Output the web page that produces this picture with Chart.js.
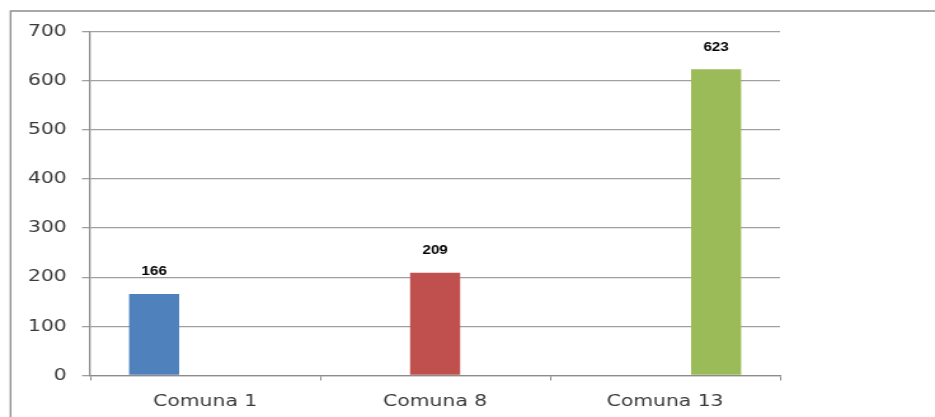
<!DOCTYPE html>
<html>
<head>
<meta charset="utf-8">
<script src="https://cdn.jsdelivr.net/npm/chart.js@4"></script>
<style>
  html, body { margin: 0; padding: 0; background: #ffffff; overflow: hidden; }
  #wrap { width: 736px; height: 417px; transform: scaleX(1.27038); transform-origin: 0 0; }
  canvas { display: block; }
</style>
</head>
<body>
<div id="wrap"><canvas id="c" width="736" height="417"></canvas></div>
<script>
const categories = ['Comuna 1', 'Comuna 8', 'Comuna 13'];
const values = [166, 209, 623];
const barColors = ['#4f81bd', '#c0504d', '#9bbb59'];
const yTicks = [0, 100, 200, 300, 400, 500, 600, 700];

const datasets = categories.map((name, i) => ({
  label: name,
  data: categories.map((_, j) => (j === i ? values[i] : null)),
  backgroundColor: barColors[i],
  borderWidth: 0,
  categoryPercentage: 0.666,
  barPercentage: 0.98
}));

const frame = {
  id: 'frame',
  beforeDraw(chart) {
    const ctx = chart.ctx;
    ctx.save();
    ctx.fillStyle = '#ffffff';
    ctx.fillRect(0, 0, chart.width, chart.height);
    ctx.strokeStyle = '#8c8c8c';
    ctx.lineWidth = 1.3;
    ctx.beginPath();
    ctx.moveTo(8.3, chart.height);
    ctx.lineTo(8.3, 11);
    ctx.lineTo(chart.width, 11);
    ctx.stroke();
    ctx.restore();
  }
};

const valueLabels = {
  id: 'valueLabels',
  afterDatasetsDraw(chart) {
    const ctx = chart.ctx;
    ctx.save();
    ctx.font = 'bold 12px "Liberation Sans", Arial, sans-serif';
    ctx.fillStyle = '#000000';
    ctx.textAlign = 'center';
    ctx.textBaseline = 'middle';
    chart.data.datasets.forEach((ds, di) => {
      const meta = chart.getDatasetMeta(di);
      meta.data.forEach((el, i) => {
        const v = ds.data[i];
        if (v === null || v === undefined) return;
        ctx.fillText(String(v), el.x, el.y - 22);
      });
    });
    ctx.restore();
  }
};

new Chart(document.getElementById('c'), {
  type: 'bar',
  data: { labels: categories, datasets },
  options: {
    responsive: false,
    animation: false,
    devicePixelRatio: 1,
    layout: { padding: { left: 0, right: 122, top: 31.5, bottom: 0 } },
    plugins: { legend: { display: false }, tooltip: { enabled: false } },
    scales: {
      x: {
        grid: { display: true, drawOnChartArea: false, drawTicks: true, tickLength: 5, color: '#8c8c8c', lineWidth: 1, offset: true },
        border: { display: true, color: '#8c8c8c', width: 1.3 },
        ticks: { color: '#3a3a3a', font: { family: '"DejaVu Sans", Verdana, sans-serif', size: 16 }, padding: 11.6, maxRotation: 0 },
        afterFit(scale) { scale.height = 41.5; }
      },
      y: {
        min: 0,
        max: 700,
        afterBuildTicks(scale) { scale.ticks = yTicks.map(v => ({ value: v })); },
        grid: { color: '#a0a0a0', lineWidth: 1.3, tickLength: 6.5, drawTicks: true },
        border: { display: true, color: '#8c8c8c', width: 1.3 },
        ticks: { color: '#3a3a3a', font: { family: '"DejaVu Sans", Verdana, sans-serif', size: 16 }, padding: 12 },
        afterFit(scale) { scale.width = 71; }
      }
    }
  },
  plugins: [frame, valueLabels]
});
</script>
</body>
</html>
